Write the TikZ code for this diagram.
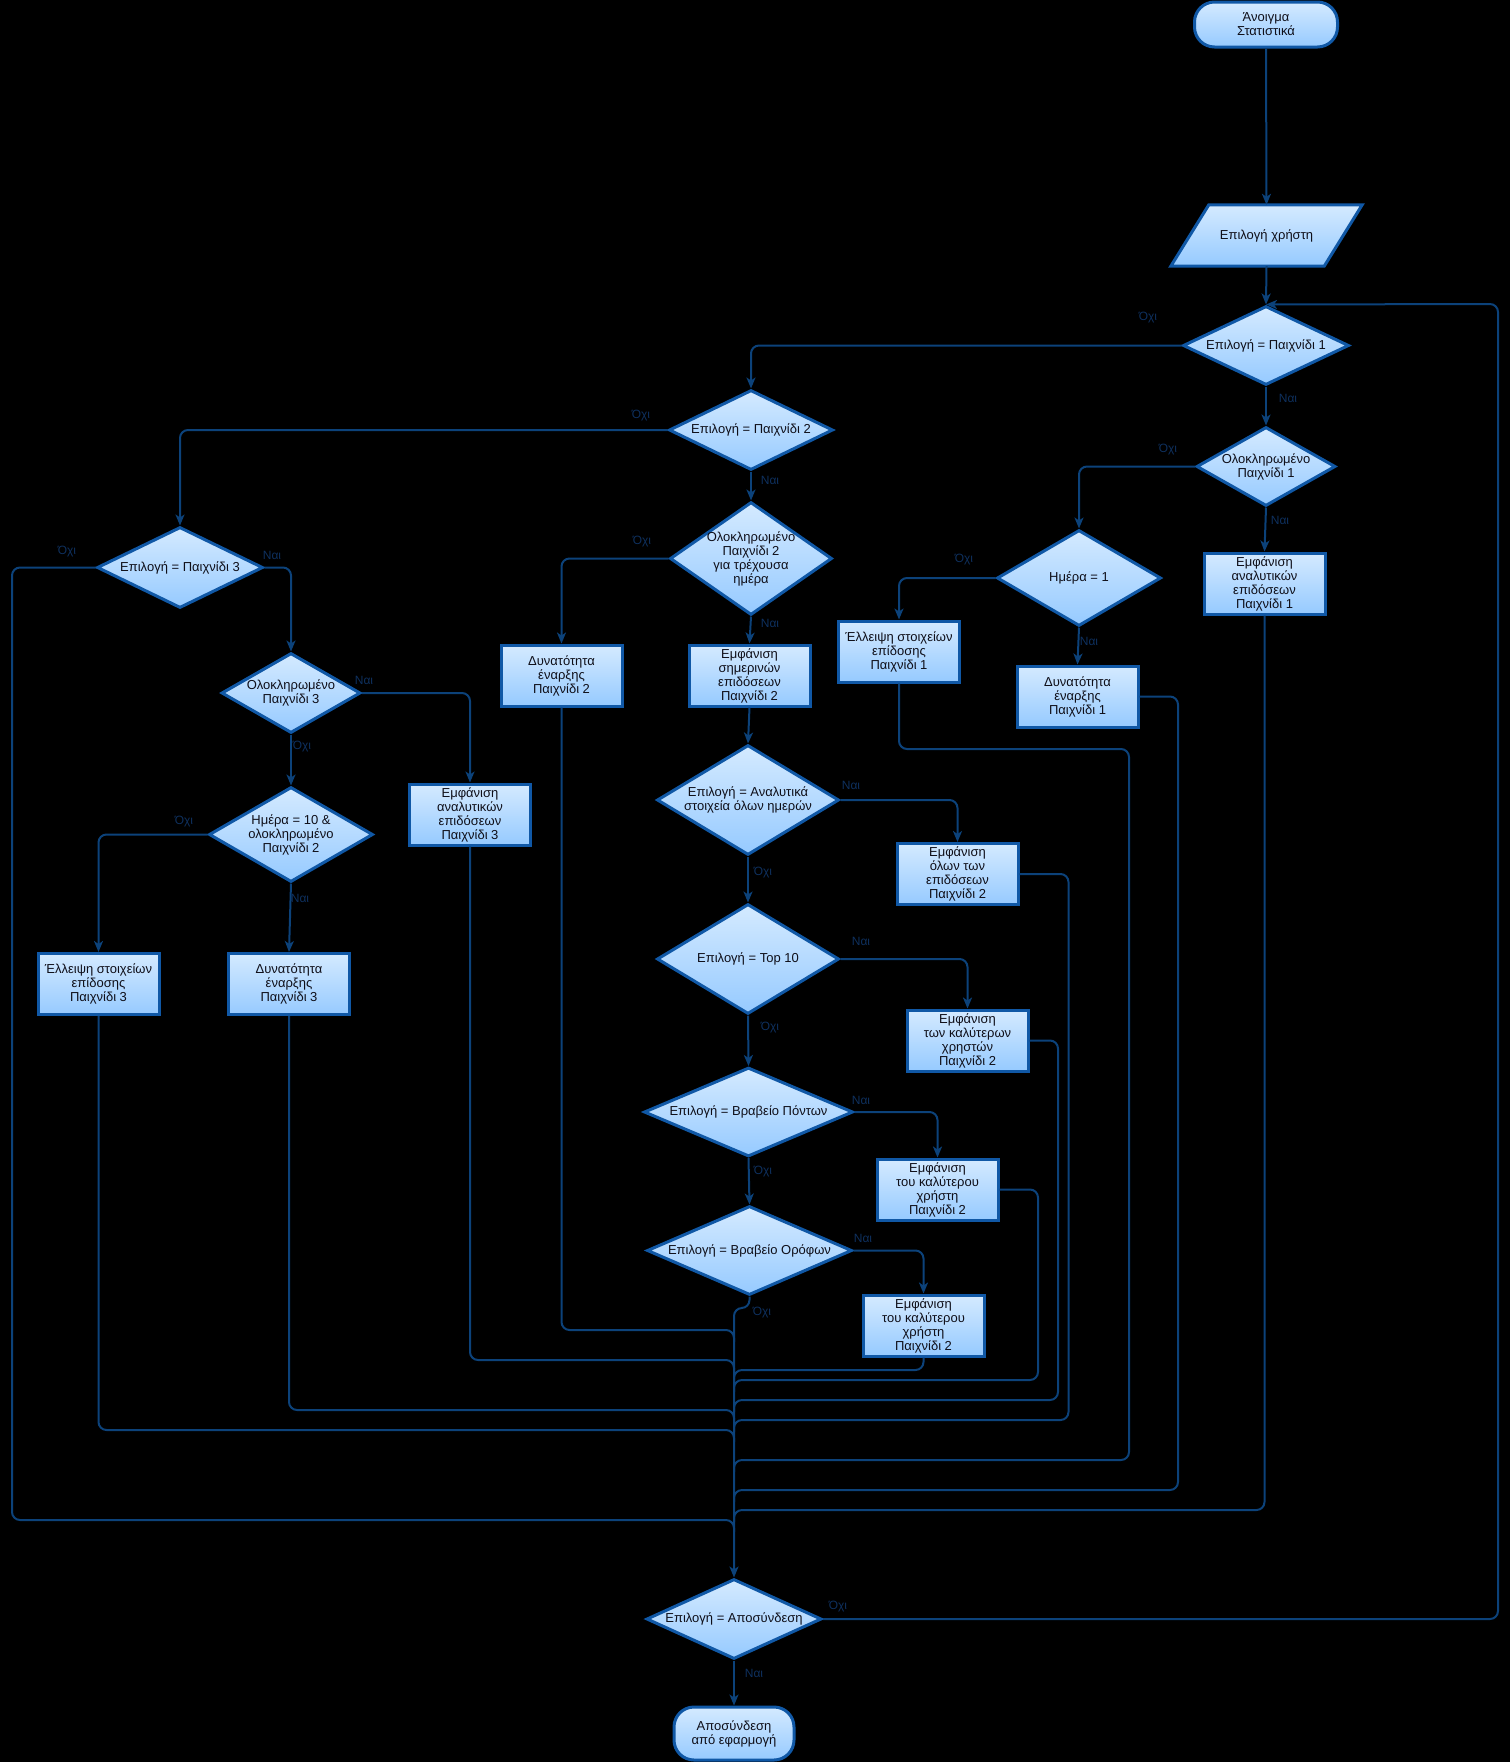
\documentclass[tikz,border=0pt]{standalone}
\usepackage{fontspec}
\setmainfont{Liberation Sans}
\usetikzlibrary{shapes.geometric,arrows.meta}
\definecolor{bordc}{RGB}{16,88,166}
\definecolor{linec}{RGB}{12,66,122}
\definecolor{fillT}{RGB}{212,234,255}
\definecolor{fillB}{RGB}{150,202,255}
\definecolor{labc}{RGB}{14,48,94}
\definecolor{txtc}{RGB}{15,15,25}
\begin{document}
\begin{tikzpicture}[x=1pt,y=-1pt,
  shp/.style={draw=bordc, line width=3pt, top color=fillT, bottom color=fillB, inner sep=0pt},
  txt/.style={font=\fontsize{13pt}{14pt}\selectfont, text=txtc, align=center, inner sep=0pt},
  bx/.style={shp, txt, rectangle, minimum width=121pt, minimum height=61pt},
  dia/.style 2 args={shp, diamond, minimum width=#1pt, minimum height=#2pt},
  term/.style 2 args={shp, rectangle, rounded corners=20pt, minimum width=#1pt, minimum height=#2pt},
  lab/.style={font=\fontsize{12pt}{14pt}\selectfont, text=labc, inner sep=0pt},
  conn/.style={draw=linec, line width=2pt, rounded corners=8pt},
  arr/.style={conn, -{Stealth[length=11pt,width=9pt,inset=3pt]}},
]
\fill[black] (0,0) rectangle (1510,1762);
\useasboundingbox (0,0) rectangle (1510,1762);

% terminators and input
\node[term={143}{45}] (st) at (1266,24.5) {};
\node[txt] (stt) at (st) {Άνοιγμα\\Στατιστικά};
\node[inner sep=0pt, minimum width=191pt, minimum height=61pt] (inp) at (1266.5,235.5) {};
\path[draw=bordc, line width=3pt, top color=fillT, bottom color=fillB]
  ([xshift=38pt]inp.north west) -- (inp.north east) -- ([xshift=-38pt]inp.south east) -- (inp.south west) -- cycle;
\node[txt] (inpt) at (inp) {Επιλογή χρήστη};
\node[term={120}{53}] (en) at (734,1733.5) {};
\node[txt] (ent) at (en) {Αποσύνδεση\\από εφαρμογή};

% decisions
\node[dia={166}{79}] (d1) at (1266,345.5) {};
\node[txt] (d1t) at (d1) {Επιλογή = Παιχνίδι 1};
\node[dia={139}{79}] (d3) at (1266,466.5) {};
\node[txt] (d3t) at (d3) {Ολοκληρωμένο\\Παιχνίδι 1};
\node[dia={164}{96}] (d4) at (1079,578) {};
\node[txt] (d4t) at (d4) {Ημέρα = 1};
\node[dia={164}{80}] (d2) at (751,430) {};
\node[txt] (d2t) at (d2) {Επιλογή = Παιχνίδι 2};
\node[dia={162}{113}] (d5) at (751,558.5) {};
\node[txt] (d5t) at (d5) {Ολοκληρωμένο\\Παιχνίδι 2\\για τρέχουσα\\ημέρα};
\node[dia={166}{81}] (d6) at (180,567.5) {};
\node[txt] (d6t) at (d6) {Επιλογή = Παιχνίδι 3};
\node[dia={139}{80}] (d11) at (291,693) {};
\node[txt] (d11t) at (d11) {Ολοκληρωμένο\\Παιχνίδι 3};
\node[dia={164}{95}] (d12) at (291,834.5) {};
\node[txt] (d12t) at (d12) {Ημέρα = 10 \&\\ολοκληρωμένο\\Παιχνίδι 2};
\node[dia={182}{110}] (d7) at (748,800) {};
\node[txt] (d7t) at (d7) {Επιλογή = Αναλυτικά\\στοιχεία όλων ημερών};
\node[dia={182}{110}] (d8) at (748,959) {};
\node[txt] (d8t) at (d8) {Επιλογή = Top 10};
\node[dia={209}{89}] (d9) at (748.5,1112) {};
\node[txt] (d9t) at (d9) {Επιλογή = Βραβείο Πόντων};
\node[dia={205}{89}] (d10) at (749.5,1250.5) {};
\node[txt] (d10t) at (d10) {Επιλογή = Βραβείο Ορόφων};
\node[dia={175}{80}] (d13) at (734,1619) {};
\node[txt] (d13t) at (d13) {Επιλογή = Αποσύνδεση};

% boxes
\node[bx] (b1) at (1264.5,583.5) {Εμφάνιση\\αναλυτικών\\επιδόσεων\\Παιχνίδι 1};
\node[bx] (b2) at (1077.5,696.5) {Δυνατότητα\\έναρξης\\Παιχνίδι 1};
\node[bx] (b3) at (899,651.5) {Έλλειψη στοιχείων\\επίδοσης\\Παιχνίδι 1};
\node[bx] (b4) at (749.5,675.5) {Εμφάνιση\\σημερινών\\επιδόσεων\\Παιχνίδι 2};
\node[bx] (b5) at (561.5,675.5) {Δυνατότητα\\έναρξης\\Παιχνίδι 2};
\node[bx] (b6) at (957.5,874) {Εμφάνιση\\όλων των\\επιδόσεων\\Παιχνίδι 2};
\node[bx] (b7) at (967.5,1040.5) {Εμφάνιση\\των καλύτερων\\χρηστών\\Παιχνίδι 2};
\node[bx] (b8) at (937.5,1189.5) {Εμφάνιση\\του καλύτερου\\χρήστη\\Παιχνίδι 2};
\node[bx] (b9) at (923.5,1325.5) {Εμφάνιση\\του καλύτερου\\χρήστη\\Παιχνίδι 2};
\node[bx] (b10) at (470,814.5) {Εμφάνιση\\αναλυτικών\\επιδόσεων\\Παιχνίδι 3};
\node[bx] (b11) at (98.5,984) {Έλλειψη στοιχείων\\επίδοσης\\Παιχνίδι 3};
\node[bx] (b12) at (289,984) {Δυνατότητα\\έναρξης\\Παιχνίδι 3};

% arrows
\draw[arr] (st.south) -- (inp.north);
\draw[arr] (inp.south) -- (d1.north);
\draw[arr] (d1.west) -| (d2.north);
\draw[arr] (d1.south) -- (d3.north);
\draw[arr] (d3.south) -- (b1.north);
\draw[arr] (d3.west) -| (d4.north);
\draw[arr] (d4.south) -- (b2.north);
\draw[arr] (d4.west) -| (b3.north);
\draw[arr] (d2.south) -- (d5.north);
\draw[arr] (d2.west) -| (d6.north);
\draw[arr] (d5.south) -- (b4.north);
\draw[arr] (d5.west) -| (b5.north);
\draw[arr] (b4.south) -- (d7.north);
\draw[arr] (d7.east) -| (b6.north);
\draw[arr] (d7.south) -- (d8.north);
\draw[arr] (d8.east) -| (b7.north);
\draw[arr] (d8.south) -- (d9.north);
\draw[arr] (d9.east) -| (b8.north);
\draw[arr] (d9.south) -- (d10.north);
\draw[arr] (d10.east) -| (b9.north);
\draw[arr] (d6.east) -| (d11.north);
\draw[arr] (d11.east) -| (b10.north);
\draw[arr] (d11.south) -- (d12.north);
\draw[arr] (d12.west) -| (b11.north);
\draw[arr] (d12.south) -- (b12.north);
\draw[arr] (d10.south) -- (749.5,1308) -- (734,1308) -- (d13.north);
\draw[arr] (d13.south) -- (en.north);
\draw[arr] (d13.east) -- (1498,1619) -- (1498,304) -- (d1.north);

% merges into trunk
\draw[conn] (b5.south) -- (561.5,1330) -- (734,1330) -- (734,1342);
\draw[conn] (b10.south) -- (470,1360) -- (734,1360) -- (734,1372);
\draw[conn] (b9.south) -- (923.5,1370) -- (734,1370) -- (734,1382);
\draw[conn] (b8.east) -- (1038,1189.5) -- (1038,1380) -- (734,1380) -- (734,1392);
\draw[conn] (b7.east) -- (1058,1040.5) -- (1058,1400) -- (734,1400) -- (734,1412);
\draw[conn] (b12.south) -- (289,1410) -- (734,1410) -- (734,1422);
\draw[conn] (b6.east) -- (1068.5,874) -- (1068.5,1420) -- (734,1420) -- (734,1432);
\draw[conn] (b11.south) -- (98.5,1430) -- (734,1430) -- (734,1442);
\draw[conn] (b3.south) -- (899,749) -- (1129,749) -- (1129,1460) -- (734,1460) -- (734,1472);
\draw[conn] (b2.east) -- (1178,696.5) -- (1178,1490) -- (734,1490) -- (734,1502);
\draw[conn] (b1.south) -- (1264.5,1510) -- (734,1510) -- (734,1522);
\draw[conn] (d6.west) -- (12,567.5) -- (12,1520) -- (734,1520) -- (734,1532);

% labels
\node[lab] (l1) at (1148,318) {Όχι};
\node[lab] (l2) at (1288,398) {Ναι};
\node[lab] (l3) at (1168,450) {Όχι};
\node[lab] (l4) at (1280,520) {Ναι};
\node[lab] (l5) at (964,560) {Όχι};
\node[lab] (l6) at (1089,641) {Ναι};
\node[lab] (l7) at (641,416) {Όχι};
\node[lab] (l8) at (770,480) {Ναι};
\node[lab] (l9) at (642,542) {Όχι};
\node[lab] (l10) at (770,623) {Ναι};
\node[lab] (l11) at (67,552) {Όχι};
\node[lab] (l12) at (272,555) {Ναι};
\node[lab] (l13) at (364,680) {Ναι};
\node[lab] (l14) at (302,747) {Όχι};
\node[lab] (l15) at (184,822) {Όχι};
\node[lab] (l16) at (300,898) {Ναι};
\node[lab] (l17) at (851,785) {Ναι};
\node[lab] (l18) at (763,873) {Όχι};
\node[lab] (l19) at (861,941) {Ναι};
\node[lab] (l20) at (770,1028) {Όχι};
\node[lab] (l21) at (861,1100) {Ναι};
\node[lab] (l22) at (763,1172) {Όχι};
\node[lab] (l23) at (863,1238) {Ναι};
\node[lab] (l24) at (762,1313) {Όχι};
\node[lab] (l25) at (838,1607) {Όχι};
\node[lab] (l26) at (754,1673) {Ναι};
\end{tikzpicture}
\end{document}
